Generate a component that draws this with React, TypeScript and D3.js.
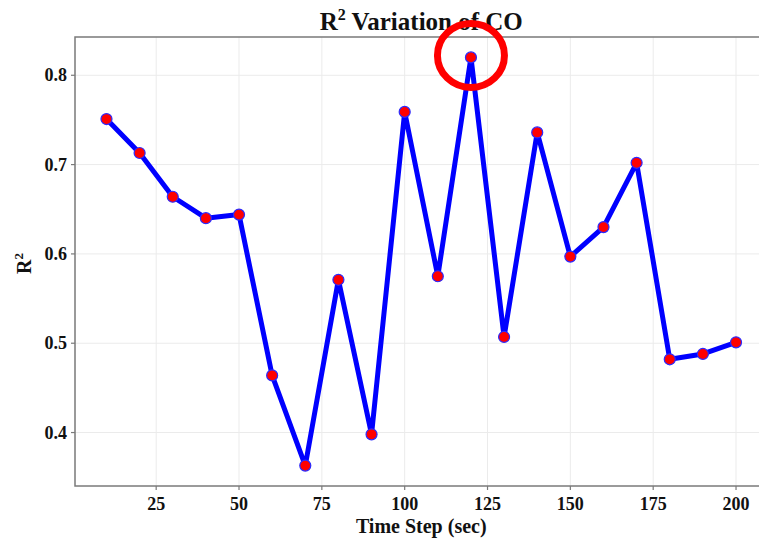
import React from "react";
import * as d3 from "d3";

const timeSteps = [10, 20, 30, 40, 50, 60, 70, 80, 90, 100, 110, 120, 130, 140, 150, 160, 170, 180, 190, 200];
const r2Values = [0.751, 0.713, 0.664, 0.640, 0.644, 0.464, 0.363, 0.571, 0.398, 0.759, 0.575, 0.820, 0.507, 0.736, 0.597, 0.630, 0.702, 0.482, 0.488, 0.501];
const xTicks = [25, 50, 75, 100, 125, 150, 175, 200];
const yTicks = [0.4, 0.5, 0.6, 0.7, 0.8];
const highlightIndex = 11;

const W = 759;
const H = 540;
const left = 75;
const right = 767.5;
const top = 37;
const bottom = 486;
const font = "'Liberation Serif', 'Times New Roman', serif";

export default function App() {
  const xMin = d3.min(timeSteps)!;
  const xMax = d3.max(timeSteps)!;
  const yMin = d3.min(r2Values)!;
  const yMax = d3.max(r2Values)!;
  const xm = (xMax - xMin) * 0.05;
  const ym = (yMax - yMin) * 0.05;
  const x = d3.scaleLinear().domain([xMin - xm, xMax + xm]).range([left, right]);
  const y = d3.scaleLinear().domain([yMin - ym, yMax + ym]).range([bottom, top]);
  const pts = timeSteps.map((t, i) => [t, r2Values[i]] as [number, number]);
  const line = d3.line<[number, number]>().x((d) => x(d[0])).y((d) => y(d[1]));
  const hx = x(timeSteps[highlightIndex]);
  const hy = y(r2Values[highlightIndex]);

  return (
    <svg width={W} height={H} style={{ position: "absolute", left: 0, top: 0, background: "#fff" }} fontFamily={font}>
      <rect x={0} y={0} width={W} height={H} fill="#fff" />
      {/* grid */}
      {xTicks.map((t) => (
        <line key={"gx" + t} x1={x(t)} x2={x(t)} y1={top} y2={bottom} stroke="#ebebeb" strokeWidth={1} />
      ))}
      {yTicks.map((t) => (
        <line key={"gy" + t} x1={left} x2={right} y1={y(t)} y2={y(t)} stroke="#ebebeb" strokeWidth={1} />
      ))}
      {/* frame */}
      <rect x={left} y={top} width={right - left} height={bottom - top} fill="none" stroke="#7a7a7a" strokeWidth={1.5} />
      {/* ticks */}
      {xTicks.map((t) => (
        <g key={"tx" + t}>
          <line x1={x(t)} x2={x(t)} y1={bottom} y2={bottom + 4} stroke="#7a7a7a" strokeWidth={1.2} />
          <text x={x(t)} y={510} textAnchor="middle" fontSize={18} fontWeight="bold" fill="#111">{t}</text>
        </g>
      ))}
      {yTicks.map((t) => (
        <g key={"ty" + t}>
          <line x1={left - 4} x2={left} y1={y(t)} y2={y(t)} stroke="#7a7a7a" strokeWidth={1.2} />
          <text x={67} y={y(t) + 6} textAnchor="end" fontSize={18} fontWeight="bold" fill="#111">{t.toFixed(1)}</text>
        </g>
      ))}
      {/* data */}
      <path d={line(pts)!} fill="none" stroke="#0000ff" strokeWidth={5} strokeLinejoin="round" />
      {pts.map((d, i) => (
        <circle key={"p" + i} cx={x(d[0])} cy={y(d[1])} r={5.5} fill="#ff0000" stroke="#2a2aff" strokeWidth={1.2} />
      ))}
      {/* title */}
      <text x={(left + right) / 2} y={30} textAnchor="middle" fontSize={25} fontWeight="bold" fill="#111">
        R<tspan fontSize={16} dy={-10}>2</tspan><tspan dy={10}> Variation of CO</tspan>
      </text>
      {/* highlight circle */}
      <ellipse cx={hx} cy={hy - 2} rx={33.5} ry={32} fill="none" stroke="#ff0000" strokeWidth={7} />
      {/* axis labels */}
      <text x={(left + right) / 2} y={533} textAnchor="middle" fontSize={20} fontWeight="bold" fill="#111">Time Step (sec)</text>
      <text transform={`translate(31, ${(top + bottom) / 2 + 2}) rotate(-90)`} textAnchor="middle" fontSize={20} fontWeight="bold" fill="#111">
        R<tspan fontSize={13} dy={-8}>2</tspan>
      </text>
    </svg>
  );
}
